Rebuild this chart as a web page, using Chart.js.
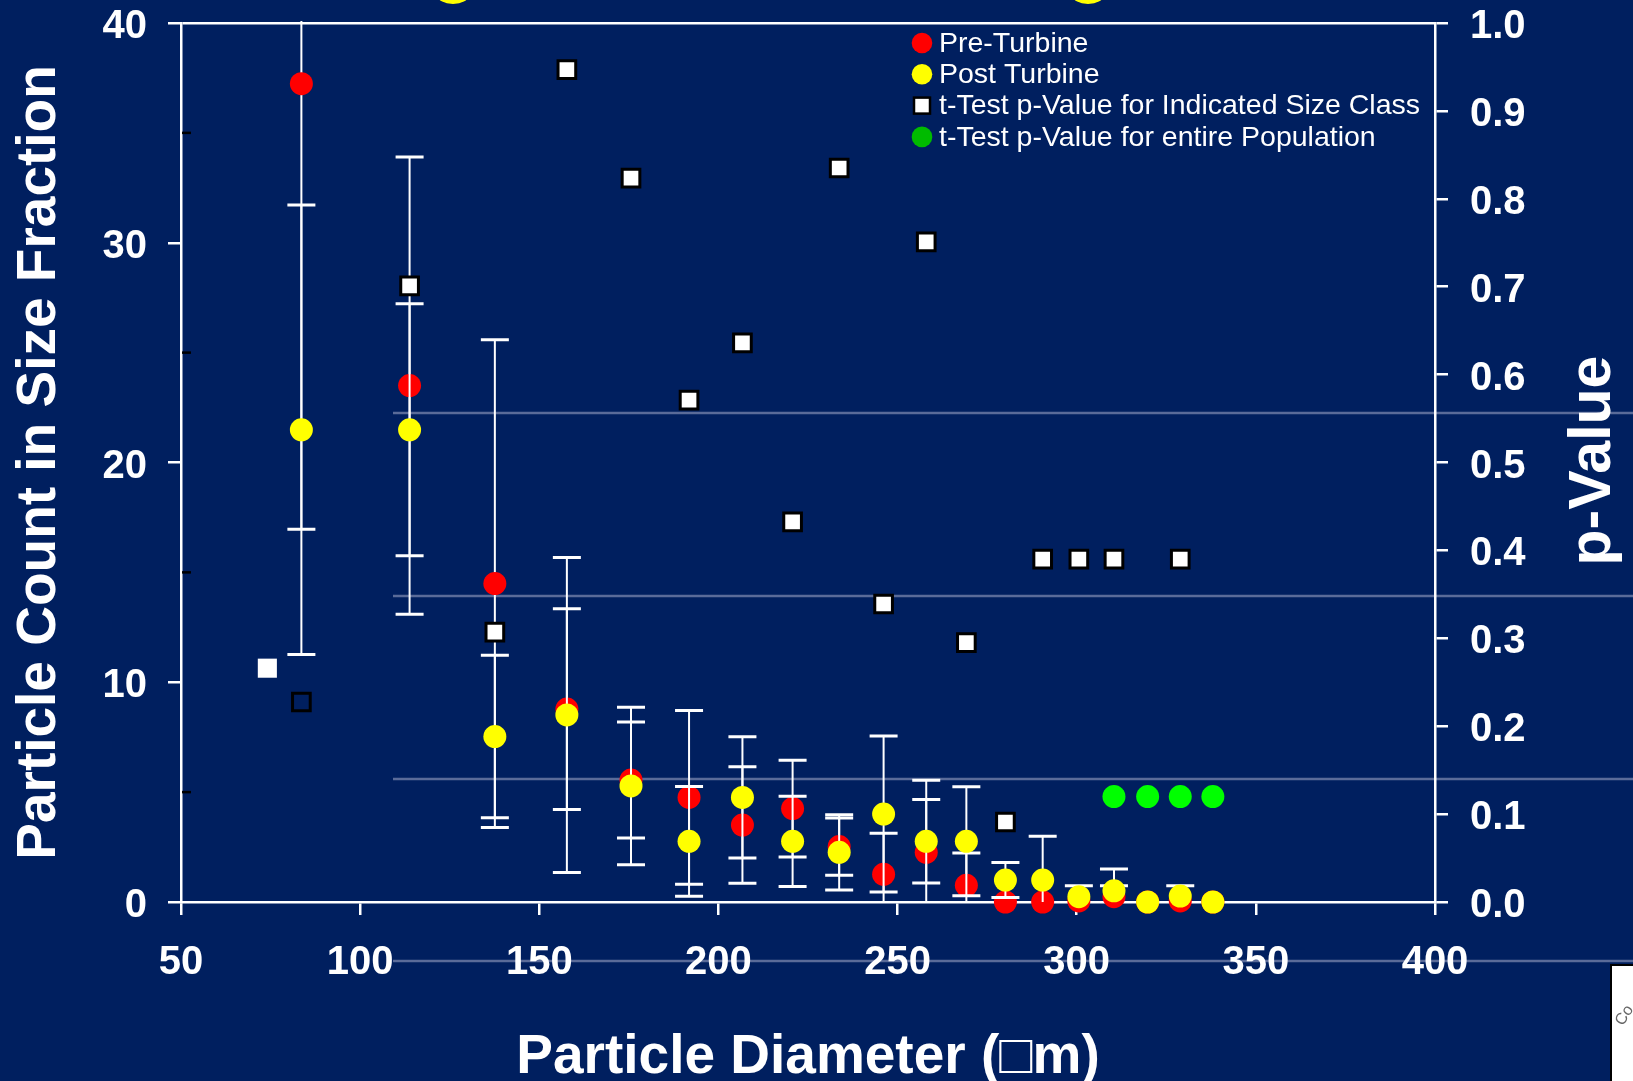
<!DOCTYPE html>
<html>
<head>
<meta charset="utf-8">
<script src="https://cdn.jsdelivr.net/npm/chart.js@4.4.0/dist/chart.umd.min.js"></script>
<style>
    html, body { margin: 0; padding: 0; background: #001f5f; overflow: hidden; }
    #wrap { width: 1633px; height: 1091px; }
</style>
</head>
<body>
<div id="wrap"><canvas id="chart" width="1633" height="1091"></canvas></div>
<script>
// size classes (um) and counts
var sizeClass   = [83.6, 113.8, 137.6, 157.7, 175.6, 191.8, 206.7, 220.7, 233.7, 246.1, 258.0, 269.2, 280.1, 290.5, 300.6, 310.4, 319.8, 328.9, 338.0];
var preTurbine  = [37.24, 23.5, 14.49, 8.78, 5.55, 4.76, 3.5, 4.25, 2.52, 1.26, 2.26, 0.76, 0, 0, 0.05, 0.24, 0, 0.05, 0];
var preErr      = [20.28, 10.4, 11.1, 4.57, 2.64, 3.95, 2.65, 2.2, 1.3, 1.87, 3.28, 1.47, 0, 0, 0, 0.5, 0, 0, 0];
var postTurbine = [21.49, 21.49, 7.53, 8.51, 5.28, 2.76, 4.76, 2.76, 2.26, 4.0, 2.76, 2.76, 1.0, 1.0, 0.24, 0.51, 0, 0.27, 0];
var postErr     = [10.23, 5.73, 3.7, 7.17, 3.58, 2.5, 2.76, 2.05, 1.71, 3.55, 1.9, 2.48, 0.8, 1.99, 0.5, 0.99, 0, 0.47, 0];

// t-test p values per size class (null = no test)
var pClass = [0.2275, 0.701, 0.307, 0.947, 0.8235, 0.571, 0.636, 0.4325, 0.835, 0.339, 0.751, 0.295, 0.091, 0.39, 0.39, 0.39, null, 0.39, null];
var strayX = [74.1];
var strayP = [0.266];

// whole population p value
var popSizes = [310.4, 319.8, 328.9, 338.0];
var pPopulation = [0.12, 0.12, 0.12, 0.12];

var xTicks = [50, 100, 150, 200, 250, 300, 350, 400];

var FONT = '"Liberation Sans", Arial, Helvetica, sans-serif';
Chart.defaults.font.family = FONT;
Chart.defaults.color = '#ffffff';

function pts(xs, ys) {
    var out = [];
    xs.forEach(function(x, i) { if (ys[i] !== null) out.push({x: x, y: ys[i]}); });
    return out;
}

// error bars drawn just before their own dataset
var errorBars = {
    id: 'errorBars',
    beforeDatasetDraw: function(chart, args) {
        var ds = chart.data.datasets[args.index];
        if (!ds.errors) return;
        var ctx = chart.ctx, a = chart.chartArea;
        var xs = chart.scales.x, ys = chart.scales[ds.yAxisID];
        ctx.save();
        ctx.beginPath();
        ctx.rect(a.left, a.top - 2, a.right - a.left, a.bottom - a.top + 2);
        ctx.clip();
        ctx.strokeStyle = '#ffffff';
        ds.data.forEach(function(p, i) {
            var e = ds.errors[i];
            if (!e) return;
            var x = xs.getPixelForValue(p.x);
            var hi = ys.getPixelForValue(p.y + e), lo = ys.getPixelForValue(p.y - e);
            ctx.lineWidth = 2;
            ctx.beginPath(); ctx.moveTo(x, hi); ctx.lineTo(x, lo); ctx.stroke();
            ctx.lineWidth = 3;
            ctx.beginPath();
            ctx.moveTo(x - 14, hi); ctx.lineTo(x + 14, hi);
            ctx.moveTo(x - 14, lo); ctx.lineTo(x + 14, lo);
            ctx.stroke();
        });
        ctx.restore();
    }
};

// slide background, decorations, legend, right title
var slide = {
    id: 'slide',
    beforeDraw: function(chart) {
        var ctx = chart.ctx;
        ctx.save();
        ctx.fillStyle = '#001f5f';
        ctx.fillRect(0, 0, chart.width, chart.height);
        ctx.strokeStyle = '#5a6b99';
        ctx.lineWidth = 2.5;
        [413, 596, 779, 961].forEach(function(y) {
            ctx.beginPath(); ctx.moveTo(393, y); ctx.lineTo(chart.width, y); ctx.stroke();
        });
        // bits of the slide title cut off at the top
        ctx.fillStyle = '#ffff00';
        [453, 1088].forEach(function(x) {
            ctx.beginPath(); ctx.ellipse(x, -5, 16, 9, 0, 0, Math.PI * 2); ctx.fill();
        });
        ctx.restore();
    },
    afterDraw: function(chart) {
        var ctx = chart.ctx, a = chart.chartArea, y = chart.scales.y;
        ctx.save();
        // minor ticks inside left axis
        ctx.strokeStyle = '#000000';
        ctx.lineWidth = 2.5;
        [5, 15, 25, 35].forEach(function(v) {
            var py = y.getPixelForValue(v);
            ctx.beginPath(); ctx.moveTo(a.left + 1, py); ctx.lineTo(a.left + 10, py); ctx.stroke();
        });

        // right axis title, reading bottom to top
        ctx.fillStyle = '#ffffff';
        ctx.font = 'bold 59px ' + FONT;
        ctx.textAlign = 'center';
        ctx.textBaseline = 'middle';
        ctx.translate(1594, (a.top + a.bottom) / 2 - 2);
        ctx.rotate(-Math.PI / 2);
        ctx.fillText('p-Value', 0, 0);
        ctx.setTransform(1, 0, 0, 1, 0, 0);

        // legend
        var lx = 922, ly = 43, step = 31.3;
        ctx.font = '28.5px ' + FONT;
        ctx.textAlign = 'left';
        chart.data.datasets.forEach(function(ds) {
            if (ds.hideInLegend) return;
            if (ds.pointStyle === 'rect') {
                ctx.fillStyle = '#ffffff';
                ctx.fillRect(lx - 8, ly - 8, 16, 16);
                ctx.strokeStyle = '#000000';
                ctx.lineWidth = 2.5;
                ctx.strokeRect(lx - 8, ly - 8, 16, 16);
            } else {
                ctx.fillStyle = ds.legendColor || ds.backgroundColor;
                ctx.beginPath(); ctx.arc(lx, ly, 10.3, 0, Math.PI * 2); ctx.fill();
            }
            ctx.fillStyle = '#ffffff';
            ctx.fillText(ds.label, lx + 17, ly + 1);
            ly += step;
        });

        // corner of another slide object
        ctx.fillStyle = '#ffffff';
        ctx.fillRect(1611, 965, 40, 200);
        ctx.strokeStyle = '#000000';
        ctx.lineWidth = 2;
        ctx.beginPath(); ctx.moveTo(1611, chart.height); ctx.lineTo(1611, 965); ctx.lineTo(1640, 965); ctx.stroke();
        ctx.fillStyle = '#666666';
        ctx.font = '16px ' + FONT;
        ctx.translate(1619, 1024);
        ctx.rotate(-1.0);
        ctx.fillText('Co', 0, 0);
        ctx.restore();
    }
};

var tickFont = {size: 40, weight: 'bold', lineHeight: 1};
var titleFont = {size: 55, weight: 'bold', lineHeight: 1.2};

// fixed axis boxes so the plot sits where the slide had it
function fixWidth(w) {
    return function(s) { s.width = w; s.paddingTop = 20; s.paddingBottom = 20; };
}

var ctx = document.getElementById('chart').getContext('2d');
var chart = new Chart(ctx, {
    type: 'scatter',
    data: {
        datasets: [{
            label: 'Pre-Turbine',
            data: pts(sizeClass, preTurbine),
            errors: preErr,
            yAxisID: 'y',
            backgroundColor: '#ff0000',
            pointRadius: 11.5,
            borderWidth: 0,
            clip: false,
            order: 4
        }, {
            label: 'Post Turbine',
            data: pts(sizeClass, postTurbine),
            errors: postErr,
            yAxisID: 'y',
            backgroundColor: '#ffff00',
            pointRadius: 11.5,
            borderWidth: 0,
            clip: false,
            order: 3
        }, {
            label: 't-Test p-Value for Indicated Size Class',
            data: pts(sizeClass, pClass),
            yAxisID: 'y2',
            pointStyle: 'rect',
            backgroundColor: function(c) { return c.dataIndex === 0 ? 'rgba(0,0,0,0)' : '#ffffff'; },
            borderColor: '#000000',
            borderWidth: 3,
            pointRadius: 12.5,
            clip: false,
            order: 2
        }, {
            label: 'stray',
            hideInLegend: true,
            data: pts(strayX, strayP),
            yAxisID: 'y2',
            pointStyle: 'rect',
            backgroundColor: '#ffffff',
            borderWidth: 0,
            pointRadius: 13.5,
            clip: false,
            order: 2
        }, {
            label: 't-Test p-Value for entire Population',
            data: pts(popSizes, pPopulation),
            yAxisID: 'y2',
            backgroundColor: '#00ff00',
            legendColor: '#00bb00',
            pointRadius: 11.5,
            borderWidth: 0,
            clip: false,
            order: 1
        }]
    },
    options: {
        responsive: false,
        animation: false,
        devicePixelRatio: 1,
        layout: {padding: {top: 23, left: 0, right: 0, bottom: 0}},
        plugins: {legend: {display: false}, tooltip: {enabled: false}},
        scales: {
            x: {
                type: 'linear',
                position: 'bottom',
                min: 50, max: 400,
                afterBuildTicks: function(s) { s.ticks = xTicks.map(function(v) { return {value: v}; }); },
                ticks: {color: '#ffffff', font: tickFont, padding: 27.5, maxRotation: 0, autoSkip: false},
                grid: {drawOnChartArea: false, color: '#ffffff', tickLength: 13, lineWidth: 2.5},
                border: {color: '#ffffff', width: 2.5},
                title: {display: true, text: 'Particle Diameter (\u25A1m)', color: '#ffffff', font: titleFont, padding: 0},
                afterFit: function(s) { s.height = 189; }
            },
            y: {
                position: 'left',
                min: 0, max: 40,
                ticks: {stepSize: 10, color: '#ffffff', font: tickFont, padding: 21, labelOffset: 4},
                grid: {
                    color: function(c) { return c.tick && c.tick.value === 40 ? '#ffffff' : 'rgba(0,0,0,0)'; },
                    tickColor: '#ffffff', tickLength: 13, lineWidth: 2.5
                },
                border: {color: '#ffffff', width: 2.5},
                title: {display: true, text: 'Particle Count in Size Fraction', color: '#ffffff', font: titleFont, padding: {top: 7, bottom: 0}},
                afterFit: fixWidth(181)
            },
            y2: {
                position: 'right',
                min: 0, max: 1,
                ticks: {stepSize: 0.1, color: '#ffffff', font: tickFont, padding: 22, labelOffset: 4,
                        callback: function(v) { return v.toFixed(1); }},
                grid: {drawOnChartArea: false, color: '#ffffff', tickLength: 13, lineWidth: 2.5},
                border: {color: '#ffffff', width: 2.5},
                afterFit: fixWidth(198)
            }
        }
    },
    plugins: [errorBars, slide]
});
</script>
</body>
</html>
